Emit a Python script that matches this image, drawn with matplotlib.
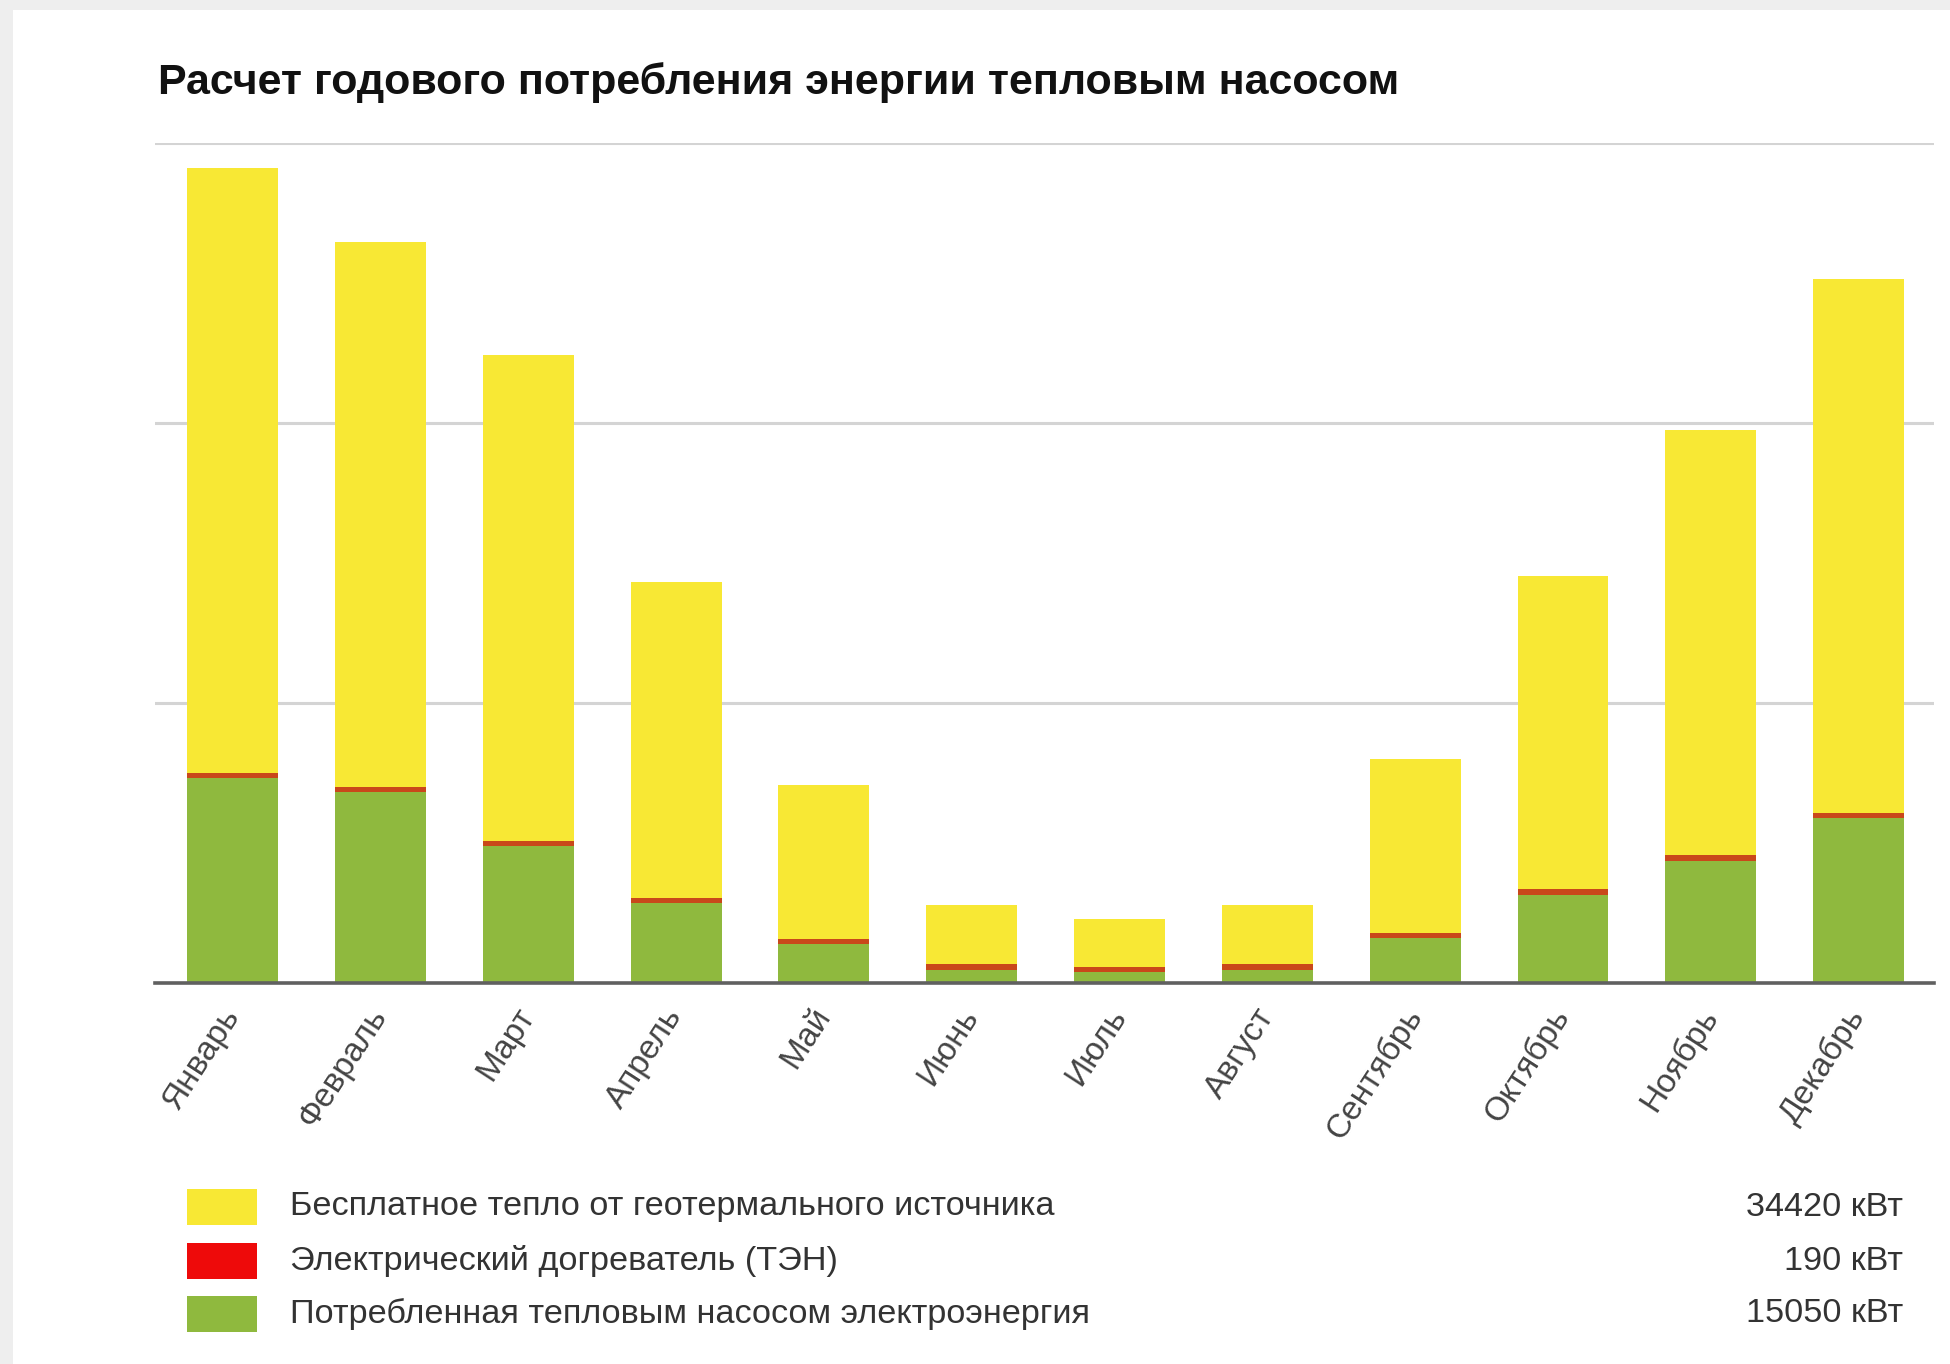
import matplotlib
matplotlib.use("Agg")
import matplotlib.pyplot as plt
from matplotlib.patches import Rectangle
import numpy as np

plt.rcParams['font.family'] = ['Liberation Sans', 'DejaVu Sans']

title = "Расчет годового потребления энергии тепловым насосом"
months = ["Январь", "Февраль", "Март", "Апрель", "Май", "Июнь",
          "Июль", "Август", "Сентябрь", "Октябрь", "Ноябрь", "Декабрь"]
# kWh per month
pump_electric = [2196, 2046, 1468, 857, 418, 139, 118, 139, 482, 943, 1307, 1768]
heater = [55, 55, 50, 55, 55, 65, 55, 65, 55, 60, 60, 55]
free_heat = [6480, 5840, 5210, 3385, 1650, 632, 515, 632, 1864, 3358, 4558, 5721]

legend_labels = ["Бесплатное тепло от геотермального источника",
                 "Электрический догреватель (ТЭН)",
                 "Потребленная тепловым насосом электроэнергия"]
legend_values = ["34420 кВт", "190 кВт", "15050 кВт"]

c_yellow = "#F8E834"
c_red = "#C9481A"
c_red_leg = "#EE0A0A"
c_green = "#8FB93E"

fig = plt.figure(figsize=(19.5, 13.64), dpi=100)
fig.patch.set_facecolor("white")
# light gray frame of screenshot
fig.patches.append(Rectangle((0, 1 - 10 / 1364), 1, 10 / 1364, transform=fig.transFigure,
                             facecolor="#EEEEEE", edgecolor="none", zorder=0))
fig.patches.append(Rectangle((0, 0), 13 / 1950, 1, transform=fig.transFigure,
                             facecolor="#EEEEEE", edgecolor="none", zorder=0))

ax = fig.add_axes([155 / 1950, 1 - 983 / 1364, (1934 - 155) / 1950, (983 - 143) / 1364])
x = np.arange(len(months))
w = 0.615
g = np.array(pump_electric)
r = np.array(heater)
yv = np.array(free_heat)
ax.bar(x, g, w, color=c_green, zorder=3)
ax.bar(x, r, w, bottom=g, color=c_red, zorder=3)
ax.bar(x, yv, w, bottom=g + r, color=c_yellow, zorder=3)

ax.set_xlim(-0.525, 11.51)
ax.set_ylim(0, 9000)
ax.set_yticks([3000, 6000, 9000])
ax.yaxis.grid(True, color="#D4D4D4", linewidth=2.2, zorder=0)
ax.set_yticklabels([])
ax.tick_params(axis="y", length=0)
for s in ["top", "right", "left"]:
    ax.spines[s].set_visible(False)
ax.spines["bottom"].set_color("#606060")
ax.spines["bottom"].set_linewidth(2.6)
ax.spines["bottom"].set_zorder(4)
ax.set_facecolor("white")

ax.set_xticks(x)
ax.set_xticklabels(months, rotation=57, ha="right", va="center",
                   rotation_mode="anchor", fontsize=24, color="#444444")
ax.tick_params(axis="x", length=0, pad=20)

fig.text(158 / 1950, 1 - 83 / 1364, title, fontsize=31, fontweight="bold",
         color="#111111", ha="left", va="center")

# legend
rows_y = [1207, 1261, 1314]
cols = [c_yellow, c_red_leg, c_green]
for yc, col, lab, val in zip(rows_y, cols, legend_labels, legend_values):
    fig.patches.append(Rectangle((187 / 1950, 1 - (yc + 18) / 1364), 70 / 1950, 36 / 1364,
                                 transform=fig.transFigure, facecolor=col, edgecolor="none"))
    fig.text(290 / 1950, 1 - yc / 1364, lab, fontsize=24.7, color="#333333",
             ha="left", va="center")
    fig.text(1903 / 1950, 1 - yc / 1364, val, fontsize=24.7, color="#333333",
             ha="right", va="center")

fig.savefig("out.png", dpi=100, facecolor=fig.get_facecolor())
